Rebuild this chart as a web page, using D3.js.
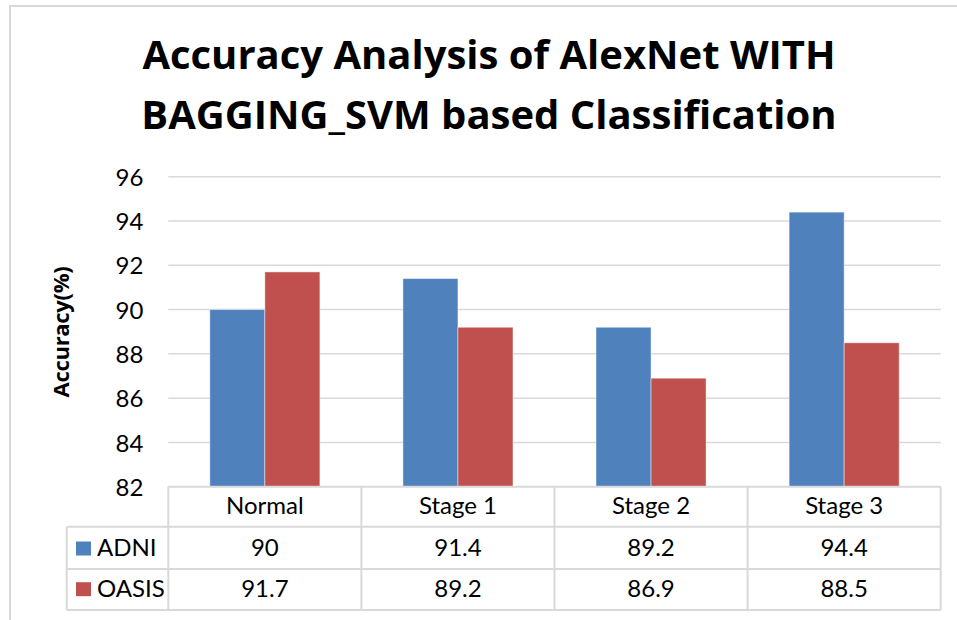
<!DOCTYPE html>
<html>
<head>
<meta charset="utf-8">
<script src="https://cdn.jsdelivr.net/npm/d3@7"></script>
<style>
  html, body { margin: 0; padding: 0; background: #fff; }
  svg { display: block; font-family: Lato, "Open Sans", sans-serif; }
</style>
</head>
<body>
<svg id="chart" width="957" height="620"></svg>
<script>
// Chart data
const categories = ["Normal", "Stage 1", "Stage 2", "Stage 3"];
const seriesNames = ["ADNI", "OASIS"];
const adniValues = [90, 91.4, 89.2, 94.4];
const oasisValues = [91.7, 89.2, 86.9, 88.5];
const yTicks = [82, 84, 86, 88, 90, 92, 94, 96];
const titleLines = ["Accuracy Analysis of AlexNet WITH", "BAGGING_SVM based Classification"];
const yAxisTitle = "Accuracy(%)";
const colors = ["#4F81BD", "#C0504D"];

const series = [adniValues, oasisValues];
const gridColor = "#d9d9d9";
const boldFont = "'Open Sans', Lato, sans-serif";

const svg = d3.select("#chart");

// outer frame
svg.append("path")
  .attr("d", "M10,620 L10,6 L957,6")
  .attr("fill", "none")
  .attr("stroke", gridColor)
  .attr("stroke-width", 2);

// title
svg.append("g").selectAll("text")
  .data(titleLines)
  .join("text")
  .attr("x", 489)
  .attr("y", (d, i) => 69 + i * 60)
  .attr("text-anchor", "middle")
  .attr("font-family", boldFont)
  .attr("font-weight", 700)
  .attr("font-size", 40)
  .attr("fill", "#000")
  .text(d => d);

// plot area
const plotLeft = 168.3, plotRight = 940.7, plotTop = 176.7, plotBottom = 486.7;

const y = d3.scaleLinear().domain([82, 96]).range([plotBottom, plotTop]);
const x0 = d3.scaleBand().domain(categories).range([plotLeft, plotRight]).paddingInner(0).paddingOuter(0);
const x1 = d3.scaleBand().domain(seriesNames)
  .range([x0.bandwidth() * 0.215, x0.bandwidth() * 0.785]).padding(0);

// gridlines
svg.append("g").selectAll("line")
  .data(yTicks.filter(t => t > 82))
  .join("line")
  .attr("x1", plotLeft).attr("x2", plotRight)
  .attr("y1", d => y(d)).attr("y2", d => y(d))
  .attr("stroke", gridColor).attr("stroke-width", 1.5);

// y tick labels
const yAxis = d3.axisLeft(y).tickValues(yTicks).tickSize(0).tickPadding(0);
const yg = svg.append("g").attr("transform", `translate(${plotLeft - 25},0)`).call(yAxis);
yg.select(".domain").remove();
yg.selectAll("text")
  .attr("font-family", "Lato, 'Open Sans', sans-serif")
  .attr("font-size", 24)
  .attr("fill", "#000")
  .attr("dy", "0.36em");

// y axis title
svg.append("text")
  .attr("transform", `translate(69,332) rotate(-90)`)
  .attr("text-anchor", "middle")
  .attr("font-family", boldFont)
  .attr("font-weight", 700)
  .attr("font-size", 22)
  .attr("letter-spacing", -0.3)
  .attr("fill", "#000")
  .text(yAxisTitle);

// bars
const barG = svg.append("g");
categories.forEach((cat, ci) => {
  seriesNames.forEach((s, si) => {
    const v = series[si][ci];
    barG.append("rect")
      .attr("x", x0(cat) + x1(s))
      .attr("y", y(v))
      .attr("width", x1.bandwidth())
      .attr("height", y(82) - y(v))
      .attr("fill", colors[si])
      .attr("stroke", "rgba(255,255,255,0.45)")
      .attr("stroke-width", 1);
  });
});

// data table
const rowY = [486.7, 526.7, 569, 610];
const legendLeft = 66.7;
const tableG = svg.append("g");
const colEdges = categories.map(c => x0(c)).concat([plotRight]);

// horizontal lines
tableG.append("line").attr("x1", plotLeft).attr("x2", plotRight).attr("y1", rowY[0]).attr("y2", rowY[0]);
rowY.slice(1).forEach(yy => {
  tableG.append("line").attr("x1", legendLeft).attr("x2", plotRight).attr("y1", yy).attr("y2", yy);
});
// vertical lines
colEdges.forEach(xx => {
  tableG.append("line").attr("x1", xx).attr("x2", xx).attr("y1", rowY[0]).attr("y2", rowY[3]);
});
tableG.append("line").attr("x1", legendLeft).attr("x2", legendLeft).attr("y1", rowY[1]).attr("y2", rowY[3]);
tableG.selectAll("line").attr("stroke", gridColor).attr("stroke-width", 2);

// header labels
tableG.append("g").selectAll("text")
  .data(categories)
  .join("text")
  .attr("x", d => x0(d) + x0.bandwidth() / 2)
  .attr("y", 514)
  .attr("text-anchor", "middle")
  .attr("font-size", 24)
  .attr("fill", "#000")
  .text(d => d);

// series rows
const rowBase = [556, 596.7];
seriesNames.forEach((s, si) => {
  tableG.append("rect")
    .attr("x", 76).attr("y", rowBase[si] - 14.5)
    .attr("width", 15).attr("height", 14)
    .attr("fill", colors[si]);
  tableG.append("text")
    .attr("x", 97).attr("y", rowBase[si])
    .attr("font-size", 24).attr("fill", "#000")
    .text(s);
  tableG.append("g").selectAll("text")
    .data(series[si])
    .join("text")
    .attr("x", (d, i) => x0(categories[i]) + x0.bandwidth() / 2)
    .attr("y", rowBase[si])
    .attr("text-anchor", "middle")
    .attr("font-size", 24)
    .attr("fill", "#000")
    .text(d => d);
});
</script>
</body>
</html>
